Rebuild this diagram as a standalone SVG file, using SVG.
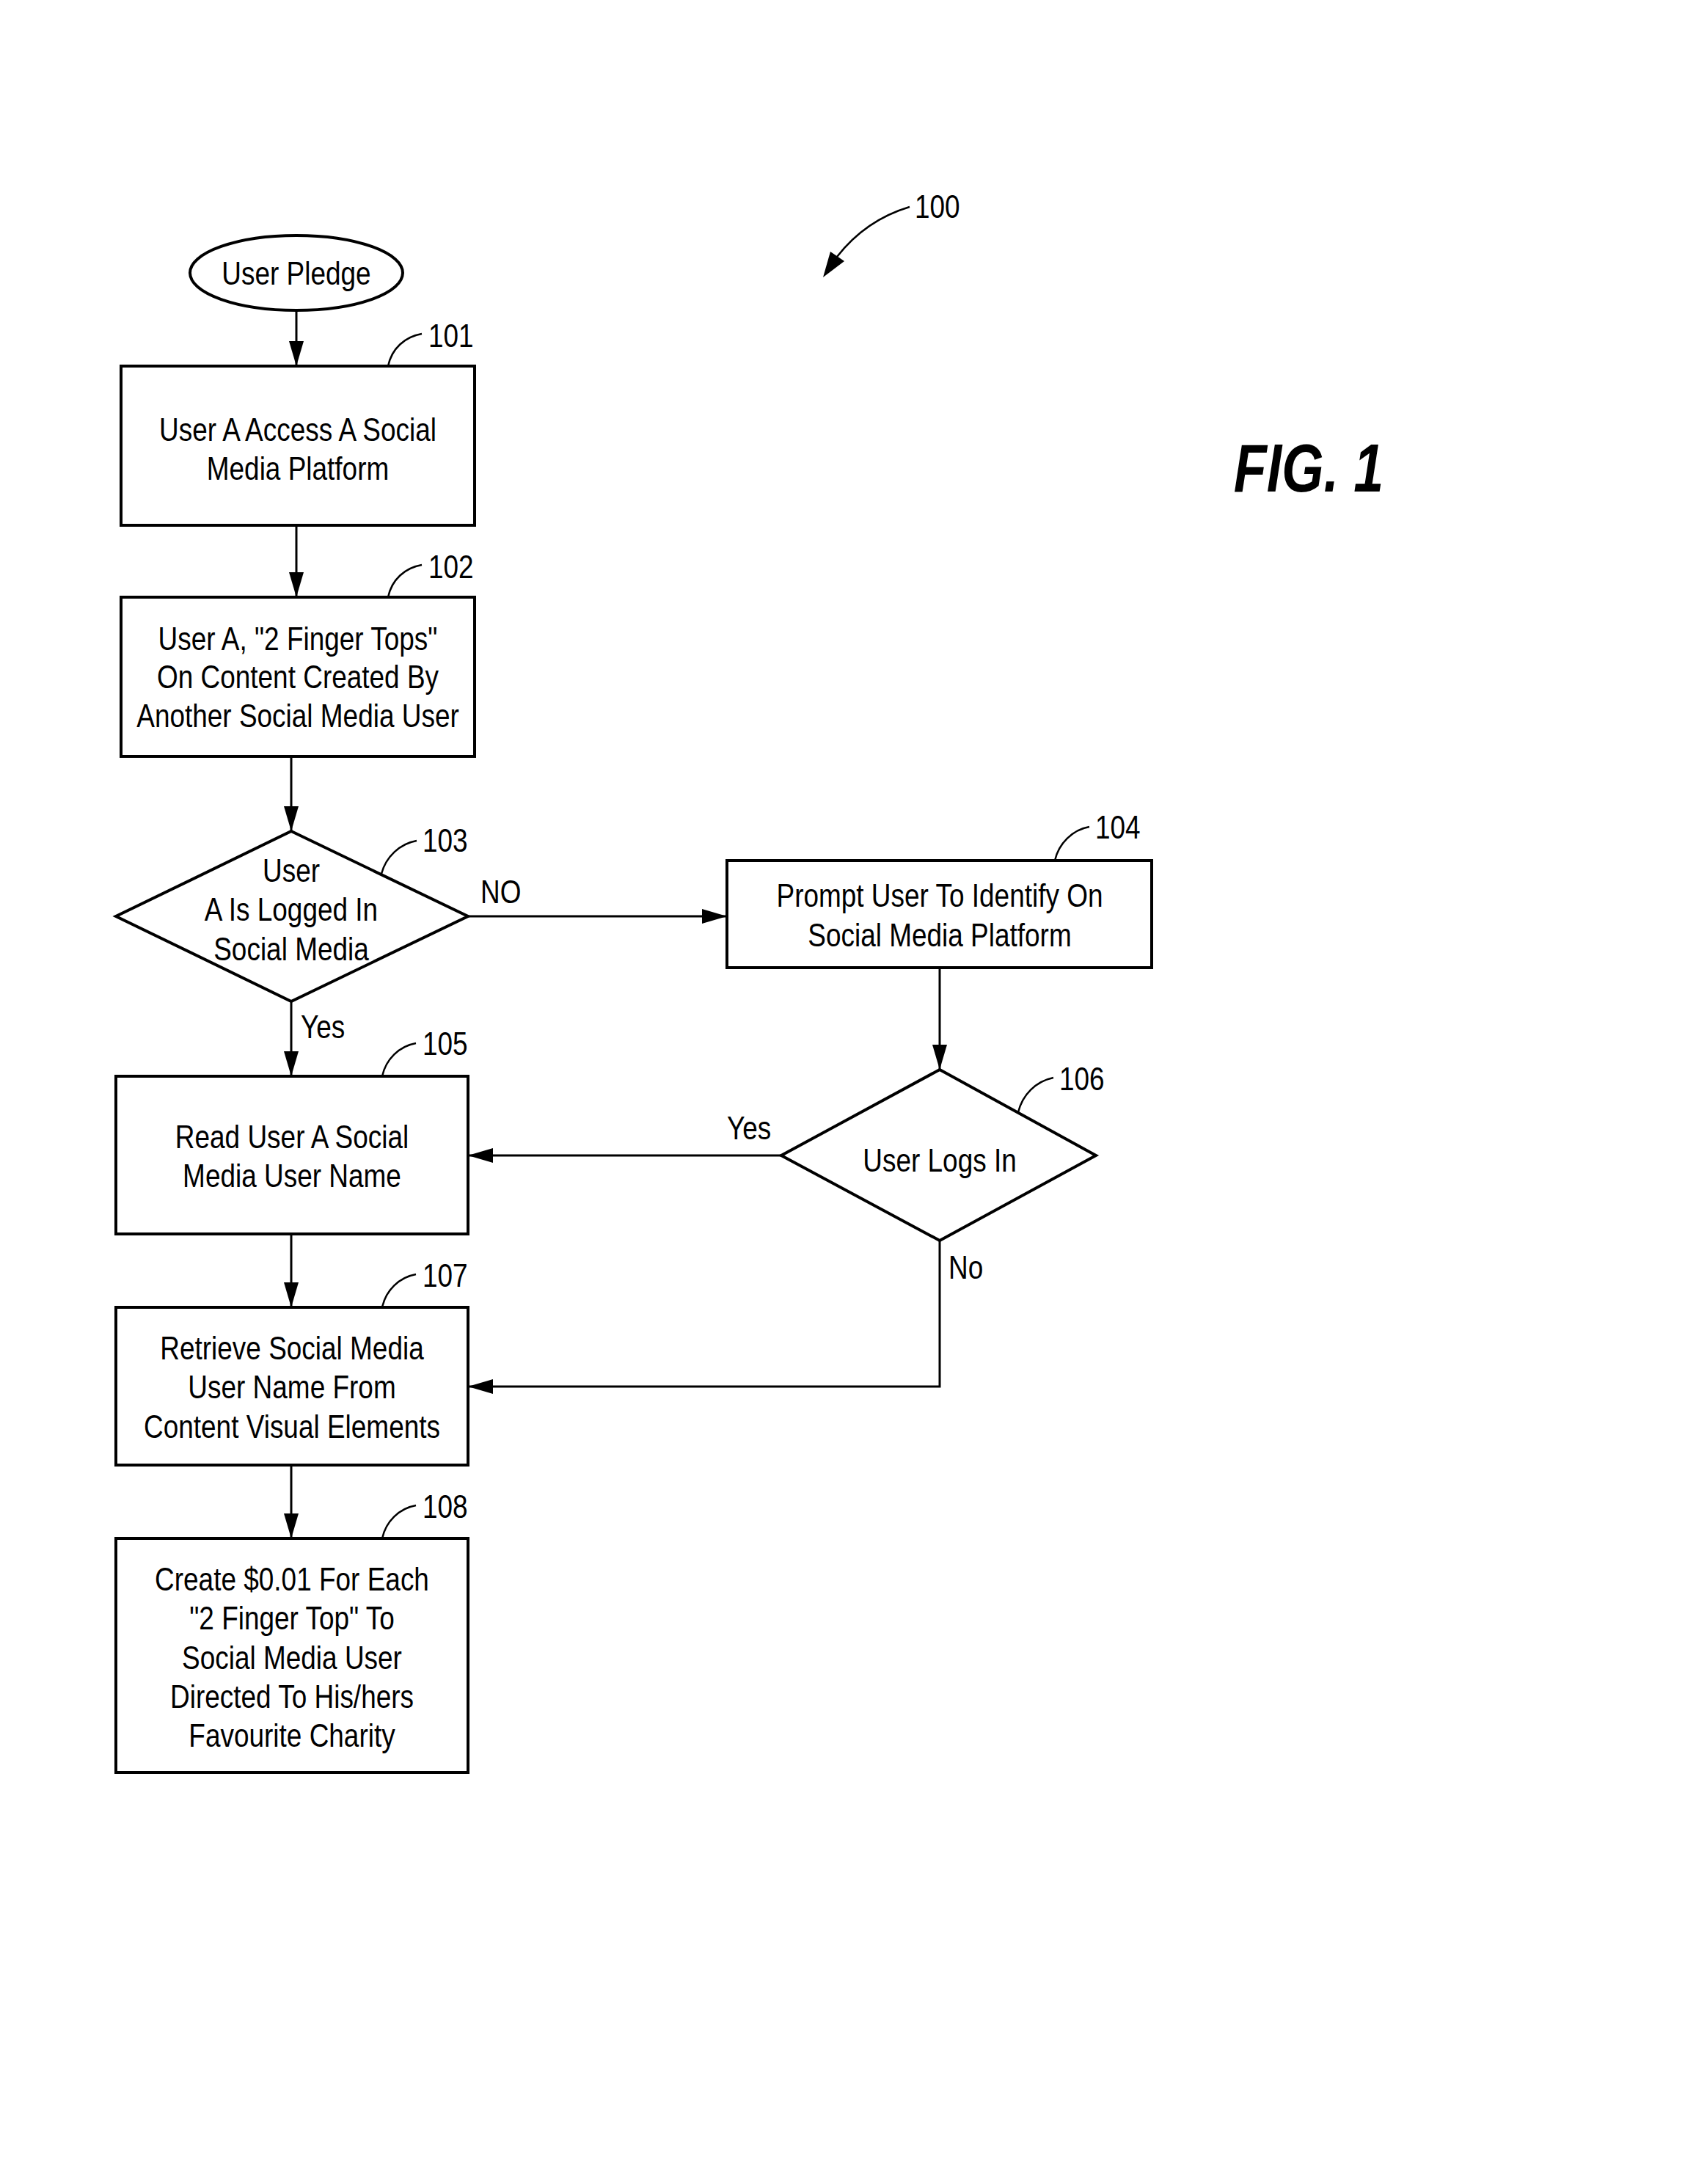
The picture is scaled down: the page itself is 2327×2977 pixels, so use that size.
<svg xmlns="http://www.w3.org/2000/svg" width="2327" height="2977" viewBox="0 0 2327 2977">
<defs>
<marker id="arr" markerUnits="userSpaceOnUse" markerWidth="34" markerHeight="20" refX="34" refY="10" orient="auto">
<path d="M0,0 L34,10 L0,20 z" fill="#000"/>
</marker>
<style>
.shape{fill:#fff;stroke:#000;stroke-width:4}
.conn{fill:none;stroke:#000;stroke-width:3}
.lead{fill:none;stroke:#000;stroke-width:2.5}
.t{font-family:"Liberation Sans",Arial,sans-serif;font-size:44px;fill:#000;text-anchor:middle}
.l{font-family:"Liberation Sans",Arial,sans-serif;font-size:44px;fill:#000}
</style>
</defs>
<rect width="2327" height="2977" fill="#fff"/>

<g id="connectors">
<line class="conn" x1="404" y1="423" x2="404" y2="499" marker-end="url(#arr)"/>
<line class="conn" x1="404" y1="716" x2="404" y2="814" marker-end="url(#arr)"/>
<line class="conn" x1="397" y1="1031" x2="397" y2="1133" marker-end="url(#arr)"/>
<line class="conn" x1="638" y1="1249" x2="991" y2="1249" marker-end="url(#arr)"/>
<line class="conn" x1="397" y1="1365" x2="397" y2="1467" marker-end="url(#arr)"/>
<line class="conn" x1="1281" y1="1319" x2="1281" y2="1458" marker-end="url(#arr)"/>
<line class="conn" x1="1065" y1="1575" x2="638" y2="1575" marker-end="url(#arr)"/>
<line class="conn" x1="397" y1="1682" x2="397" y2="1782" marker-end="url(#arr)"/>
<polyline class="conn" points="1281,1691 1281,1890 638,1890" marker-end="url(#arr)"/>
<line class="conn" x1="397" y1="1997" x2="397" y2="2097" marker-end="url(#arr)"/>
<g transform="translate(655 1231) scale(0.84 1)"><text class="l" x="0" y="0">NO</text></g>
<g transform="translate(410 1415) scale(0.84 1)"><text class="l" x="0" y="0">Yes</text></g>
<g transform="translate(991 1553) scale(0.84 1)"><text class="l" x="0" y="0">Yes</text></g>
<g transform="translate(1293 1743) scale(0.84 1)"><text class="l" x="0" y="0">No</text></g>
</g>

<g id="ref100">
<path class="lead" d="M1240,282 Q1180,300 1141,350" stroke-width="3.5"/>
<polygon points="1122,378 1132,343 1151,356" fill="#000"/>
<g transform="translate(1247 297) scale(0.84 1)"><text class="l" x="0" y="0">100</text></g>
</g>

<g id="fig">
<g transform="translate(1784 670) scale(0.8 1)"><text x="0" y="0" font-family="Liberation Sans, Arial, sans-serif" font-size="92" font-weight="bold" font-style="italic" text-anchor="middle">FIG. 1</text></g>
</g>

<g id="start">
<ellipse class="shape" cx="404" cy="372" rx="145" ry="51"/>
<g transform="translate(404 0) scale(0.84 1)"><text class="t" x="0" y="388">User Pledge</text></g>
</g>

<g id="n101">
<rect class="shape" x="165" y="499" width="482" height="217"/>
<g transform="translate(406 0) scale(0.84 1)"><text class="t" x="0" y="601">User A Access A Social</text><text class="t" x="0" y="654">Media Platform</text></g>
<path class="lead" d="M529,499 C534,475 552,459 575,455"/>
<g transform="translate(584 473) scale(0.84 1)"><text class="l" x="0" y="0">101</text></g>
</g>

<g id="n102">
<rect class="shape" x="165" y="814" width="482" height="217"/>
<g transform="translate(406 0) scale(0.84 1)"><text class="t" x="0" y="886">User A, "2 Finger Tops"</text><text class="t" x="0" y="938">On Content Created By</text><text class="t" x="0" y="991">Another Social Media User</text></g>
<path class="lead" d="M529,814 C534,790 552,774 575,770"/>
<g transform="translate(584 788) scale(0.84 1)"><text class="l" x="0" y="0">102</text></g>
</g>

<g id="n103">
<polygon class="shape" points="397,1133 638,1249 397,1365 158,1249"/>
<g transform="translate(397 0) scale(0.84 1)"><text class="t" x="0" y="1202">User</text><text class="t" x="0" y="1255">A Is Logged In</text><text class="t" x="0" y="1309">Social Media</text></g>
<path class="lead" d="M520,1191 C526,1168 545,1150 568,1146"/>
<g transform="translate(576 1161) scale(0.84 1)"><text class="l" x="0" y="0">103</text></g>
</g>

<g id="n104">
<rect class="shape" x="991" y="1173" width="579" height="146"/>
<g transform="translate(1281 0) scale(0.84 1)"><text class="t" x="0" y="1236">Prompt User To Identify On</text><text class="t" x="0" y="1290">Social Media Platform</text></g>
<path class="lead" d="M1438,1173 C1443,1150 1462,1131 1485,1127"/>
<g transform="translate(1493 1143) scale(0.84 1)"><text class="l" x="0" y="0">104</text></g>
</g>

<g id="n105">
<rect class="shape" x="158" y="1467" width="480" height="215"/>
<g transform="translate(398 0) scale(0.84 1)"><text class="t" x="0" y="1565">Read User A Social</text><text class="t" x="0" y="1618">Media User Name</text></g>
<path class="lead" d="M521,1467 C526,1444 544,1426 567,1422"/>
<g transform="translate(576 1438) scale(0.84 1)"><text class="l" x="0" y="0">105</text></g>
</g>

<g id="n106">
<polygon class="shape" points="1281,1458 1494,1575 1281,1691 1065,1575"/>
<g transform="translate(1281 0) scale(0.84 1)"><text class="t" x="0" y="1597">User Logs In</text></g>
<path class="lead" d="M1388,1516 C1394,1492 1412,1474 1436,1469"/>
<g transform="translate(1444 1486) scale(0.84 1)"><text class="l" x="0" y="0">106</text></g>
</g>

<g id="n107">
<rect class="shape" x="158" y="1782" width="480" height="215"/>
<g transform="translate(398 0) scale(0.84 1)"><text class="t" x="0" y="1853">Retrieve Social Media</text><text class="t" x="0" y="1906">User Name From</text><text class="t" x="0" y="1960">Content Visual Elements</text></g>
<path class="lead" d="M521,1782 C526,1759 544,1741 567,1737"/>
<g transform="translate(576 1754) scale(0.84 1)"><text class="l" x="0" y="0">107</text></g>
</g>

<g id="n108">
<rect class="shape" x="158" y="2097" width="480" height="319"/>
<g transform="translate(398 0) scale(0.84 1)"><text class="t" x="0" y="2168">Create $0.01 For Each</text><text class="t" x="0" y="2221">"2 Finger Top" To</text><text class="t" x="0" y="2275">Social Media User</text><text class="t" x="0" y="2328">Directed To His/hers</text><text class="t" x="0" y="2381">Favourite Charity</text></g>
<path class="lead" d="M521,2097 C526,2074 544,2056 567,2052"/>
<g transform="translate(576 2069) scale(0.84 1)"><text class="l" x="0" y="0">108</text></g>
</g>
</svg>
